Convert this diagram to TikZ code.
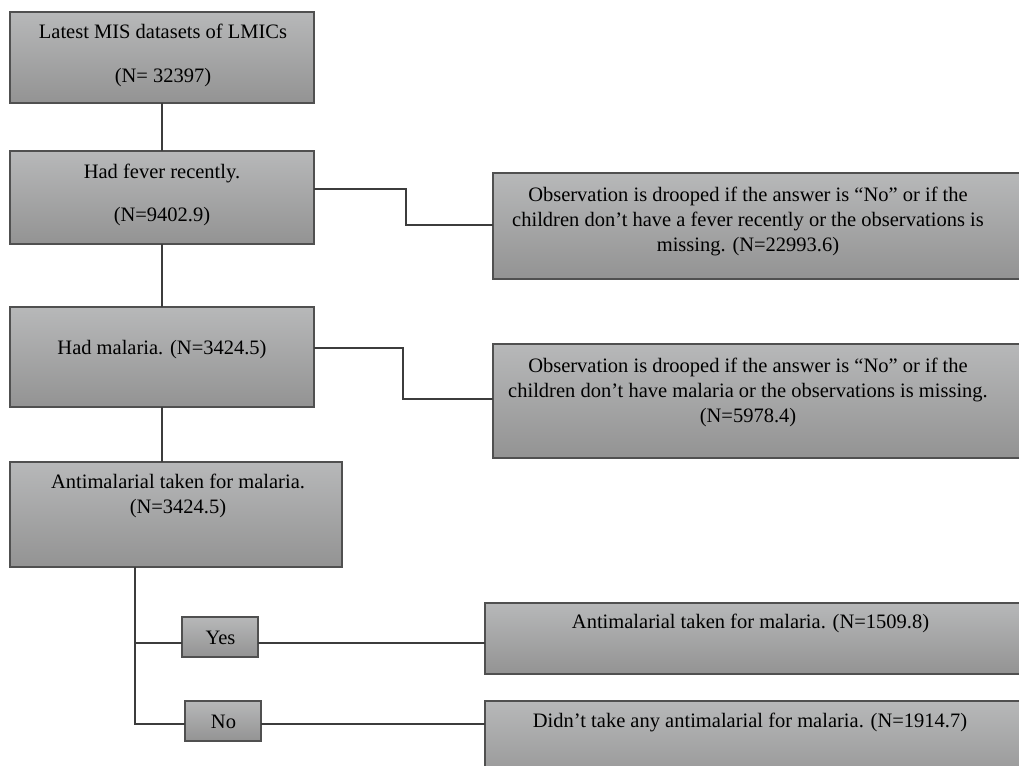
\documentclass[tikz,border=0pt]{standalone}
\usepackage{fontspec}
\setmainfont{Liberation Serif}
\definecolor{gtop}{RGB}{183,184,185}
\definecolor{gmid}{RGB}{171,171,172}
\definecolor{gbot}{RGB}{147,147,147}
\definecolor{edgec}{RGB}{80,80,80}
\definecolor{linec}{RGB}{60,60,60}
\tikzset{
  box/.style={rectangle, draw=edgec, line width=1.3pt, top color=gtop, middle color=gmid, bottom color=gbot, inner sep=0pt, outer sep=0pt},
  txt/.style={align=center, inner sep=0pt, font=\fontsize{20.5}{25}\selectfont},
  conn/.style={draw=linec, line width=1.2pt}
}
\begin{document}
\begin{tikzpicture}[x=1pt,y=-1pt]
\useasboundingbox (0,0) rectangle (1019,765);
\clip (0,0) rectangle (1019,765);
% boxes
\node[box, minimum width=304pt, minimum height=91pt] (b1) at (162,57.5) {};
\node[box, minimum width=304pt, minimum height=93pt] (b2) at (162,197.5) {};
\node[box, minimum width=304pt, minimum height=100pt] (b3) at (162,357) {};
\node[box, minimum width=332pt, minimum height=105pt] (b4) at (176,514.5) {};
\node[box, minimum width=547pt, minimum height=106pt] (r1) at (766.5,226) {};
\node[box, minimum width=547pt, minimum height=114pt] (r2) at (766.5,401) {};
\node[box, minimum width=555pt, minimum height=71pt] (ry) at (762.5,638.5) {};
\node[box, minimum width=555pt, minimum height=89pt] (rn) at (762.5,745.5) {};
\node[box, minimum width=76pt, minimum height=40pt] (yes) at (220,637) {};
\node[box, minimum width=76pt, minimum height=40pt] (no) at (223,721) {};
% texts
\node[txt] (b1t) at (163,55) {Latest MIS datasets of LMICs\\[19pt](N= 32397)};
\node[txt] (b2t) at (162,194.5) {Had fever recently.\\[18pt](N=9402.9)};
\node[txt] (b3t) at (162,350) {Had malaria. (N=3424.5)};
\node[txt] (b4t) at (178,496) {Antimalarial taken for malaria.\\(N=3424.5)};
\node[txt] (r1t) at (748,221.5) {Observation is drooped if the answer is “No” or if the\\children don’t have a fever recently or the observations is\\missing. (N=22993.6)};
\node[txt] (r2t) at (748,392) {Observation is drooped if the answer is “No” or if the\\children don’t have malaria or the observations is missing.\\(N=5978.4)};
\node[txt] (ryt) at (750.5,623) {Antimalarial taken for malaria. (N=1509.8)};
\node[txt] (rnt) at (750,722) {Didn’t take any antimalarial for malaria. (N=1914.7)};
\node[txt] (yest) at (220.5,638) {Yes};
\node[txt] (not) at (223.5,722) {No};
% connector coordinates
\coordinate (e1) at (406,189);
\coordinate (e2) at (406,225);
\coordinate (f1) at (403,348);
\coordinate (f2) at (403,399);
\coordinate (t1) at (135,643);
\coordinate (t2) at (135,724);
% connectors
\draw[conn] (b1.south) -- (b2.north);
\draw[conn] (b2.south) -- (b3.north);
\draw[conn] (b3.south) -- (b3.south |- b4.north);
\draw[conn] (b2.east |- e1) -- (e1) -- (e2) -- (r1.west |- e2);
\draw[conn] (b3.east |- f1) -- (f1) -- (f2) -- (r2.west |- f2);
\draw[conn] (b4.south -| t1) -- (t2) -- (no.west |- t2);
\draw[conn] (t1) -- (yes.west |- t1);
\draw[conn] (yes.east |- t1) -- (ry.west |- t1);
\draw[conn] (no.east |- t2) -- (rn.west |- t2);
\end{tikzpicture}
\end{document}
